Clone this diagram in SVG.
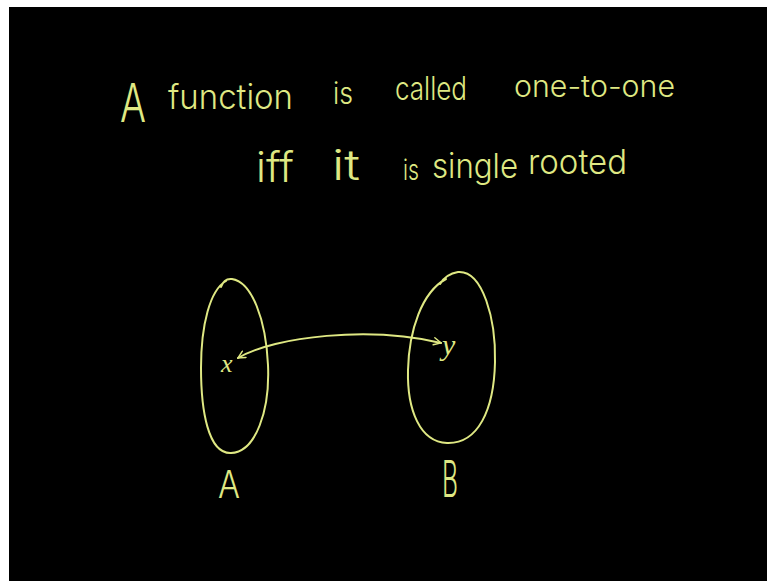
<svg xmlns="http://www.w3.org/2000/svg" width="767" height="581" viewBox="0 0 767 581">
<defs>
<style>
.ink{fill:#dfe883;font-family:Inter,"Liberation Sans",sans-serif;font-weight:300;}
.var{fill:#dfe883;font-family:"Liberation Serif",serif;font-style:italic;}
.line{fill:none;stroke:#dfe883;stroke-width:2;stroke-linecap:round;stroke-linejoin:round;}
</style>
<marker id="ah" viewBox="0 0 10 10" refX="9" refY="5" markerWidth="9" markerHeight="9" markerUnits="userSpaceOnUse" orient="auto-start-reverse">
<path d="M1 1 L9 5 L1 9" fill="none" stroke="#dfe883" stroke-width="1.6" stroke-linecap="round"/>
</marker>
</defs>
<rect x="0" y="0" width="767" height="581" fill="#ffffff"/>
<rect x="9" y="7" width="758" height="574" fill="#000000"/>
<g id="title">
<text class="ink" x="120" y="122" font-size="54" textLength="26" lengthAdjust="spacingAndGlyphs">A</text>
<text class="ink" x="168" y="109" font-size="34" textLength="125" lengthAdjust="spacingAndGlyphs">function</text>
<text class="ink" x="333" y="104" font-size="30" textLength="20" lengthAdjust="spacingAndGlyphs">is</text>
<text class="ink" x="395" y="100" font-size="32" textLength="72" lengthAdjust="spacingAndGlyphs">called</text>
<text class="ink" x="514" y="97" font-size="30" textLength="161" lengthAdjust="spacingAndGlyphs">one-to-one</text>
<text class="ink" x="256" y="182" font-size="42" textLength="38" lengthAdjust="spacingAndGlyphs">iff</text>
<text class="ink" x="332" y="180" font-size="42" textLength="28" lengthAdjust="spacingAndGlyphs">it</text>
<text class="ink" x="403" y="180" font-size="28" textLength="16" lengthAdjust="spacingAndGlyphs">is</text>
<text class="ink" x="432" y="178" font-size="34" textLength="86" lengthAdjust="spacingAndGlyphs">single</text>
<text class="ink" x="528" y="174" font-size="34" textLength="99" lengthAdjust="spacingAndGlyphs">rooted</text>
</g>
<g id="setA">
<path class="line" d="M221 287 Q224 278 232 279 C252 282 266 320 268 365 C270 410 256 452 231 453 C208 454 201 410 201 368 C201 325 210 290 226 281"/>
<text class="ink" x="218" y="498" font-size="38" textLength="22" lengthAdjust="spacingAndGlyphs">A</text>
</g>
<g id="setB">
<path class="line" d="M440 284 Q446 274 458 272 C483 270 496 320 495 362 C494 410 478 444 447 443 C420 442 407 410 408 370 C409 330 422 292 446 279"/>
<text class="ink" x="442" y="497" font-size="50" textLength="16" lengthAdjust="spacingAndGlyphs">B</text>
</g>
<g id="elemX">
<text class="var" x="221" y="372" font-size="26">x</text>
</g>
<g id="elemY">
<text class="var" x="442" y="355" font-size="30">y</text>
</g>
<g id="connectors">
<path class="line" d="M238 358 C275 336 370 326 441 343" marker-start="url(#ah)" marker-end="url(#ah)"/>
</g>
</svg>
